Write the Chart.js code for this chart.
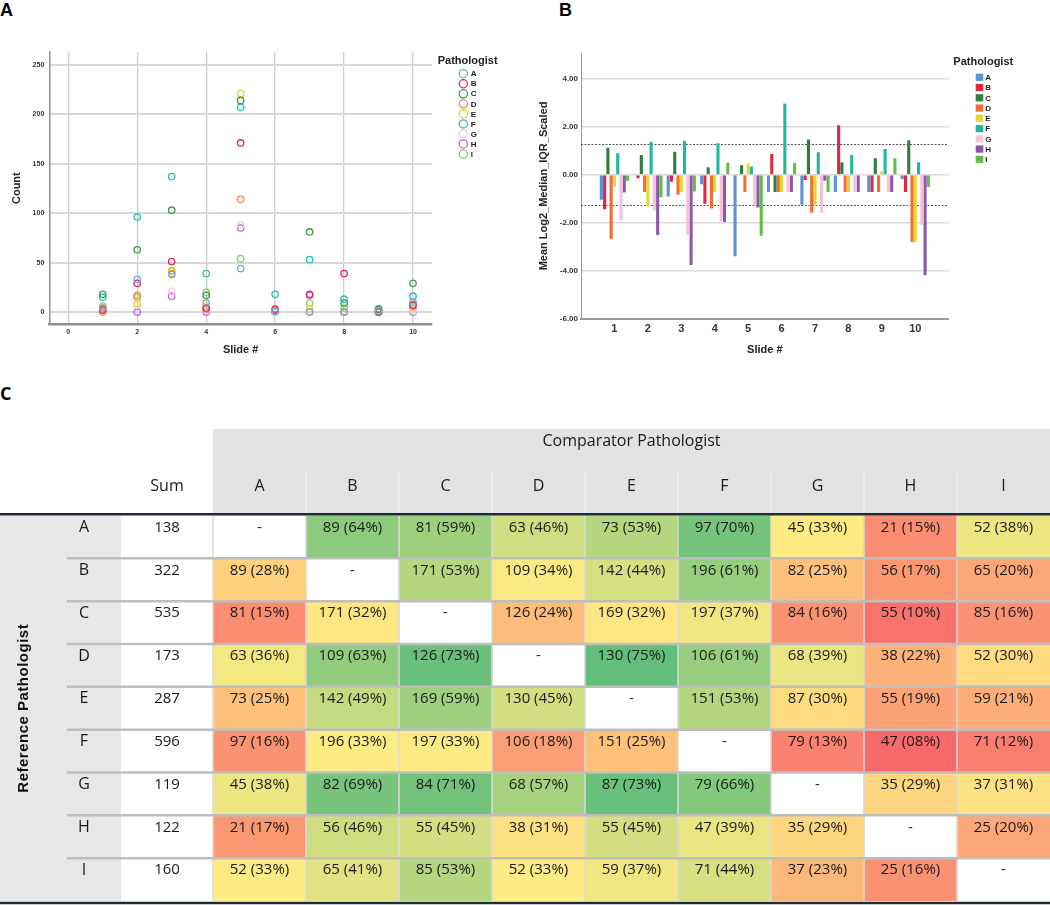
<!DOCTYPE html>
<html>
<head>
<meta charset="utf-8">
<title>Pathologist counts, scaled IQR and pairwise agreement</title>
<script src="https://cdn.jsdelivr.net/npm/chart.js@4.4.1/dist/chart.umd.min.js"></script>
<style>
  body { margin: 0; background: #fff; }
  #page { position: relative; width: 1050px; height: 905px; overflow: hidden; }
  canvas { position: absolute; }
  .panel { position: absolute; font: bold 18px "Liberation Sans", Arial, sans-serif; line-height: 1; color: #000; }
</style>
</head>
<body>
<div id="page">
  <div class="panel" style="left:0;top:1px">A</div>
  <div class="panel" style="left:559px;top:1px">B</div>
  <div class="panel" style="left:0;top:384px;font-family:'Open Sans',sans-serif">C</div>
  <canvas id="countChart" width="520" height="370" style="left:0;top:0"></canvas>
  <canvas id="iqrChart" width="530" height="370" style="left:520px;top:0"></canvas>
  <canvas id="agreeChart" width="1050" height="525" style="left:0;top:380px"></canvas>
</div>
<script>
const FONT = '"Liberation Sans", Arial, sans-serif';
const TABLE_FONT = '"Open Sans", sans-serif';

const pathologists = ['A', 'B', 'C', 'D', 'E', 'F', 'G', 'H', 'I'];
const slides = [1, 2, 3, 4, 5, 6, 7, 8, 9, 10];

// Panel A - count per slide, one row per pathologist
const slideCounts = [
  [4, 33, 38, 9, 44, 1, 0, 0, 1, 10],
  [2, 29, 51, 4, 171, 3, 18, 39, 0, 7],
  [18, 63, 103, 17, 214, 1, 81, 9, 3, 29],
  [0, 17, 39, 3, 114, 2, 0, 0, 0, 6],
  [5, 9, 41, 6, 221, 1, 3, 0, 1, 5],
  [15, 96, 137, 39, 207, 18, 53, 13, 3, 16],
  [2, 7, 21, 2, 88, 0, 0, 0, 0, 1],
  [3, 0, 16, 0, 85, 0, 17, 0, 0, 0],
  [6, 15, 42, 20, 54, 1, 9, 4, 2, 8]
];
const countTicksX = [0, 2, 4, 6, 8, 10];
const countTicksY = [0, 50, 100, 150, 200, 250];

// Panel B - mean log2 median/IQR scaled, one row per pathologist
const log2Scaled = [
  [-1.04, 0, -0.9, -0.39, -3.4, -0.72, -1.25, -0.72, -0.72, -0.18],
  [-1.43, -0.14, -0.29, -1.21, 0.04, 0.87, -0.21, 2.07, -0.72, -0.72],
  [1.13, 0.83, 0.96, 0.32, 0.4, -0.72, 1.47, 0.53, 0.69, 1.44],
  [-2.68, -0.72, -0.83, -1.4, -0.72, -0.72, -1.58, -0.72, -0.72, -2.8],
  [-0.49, -1.32, -0.72, -0.72, 0.47, -0.72, -1.25, -0.72, 0.15, -2.8],
  [0.9, 1.38, 1.42, 1.32, 0.35, 2.98, 0.94, 0.83, 1.08, 0.53],
  [-1.9, -1.49, -2.5, -1.94, -1.25, -0.72, -1.58, -0.72, -0.72, -2.08],
  [-0.74, -2.51, -3.76, -1.97, -1.36, -0.72, -0.25, -0.72, -0.72, -4.19],
  [-0.26, -0.93, -0.69, 0.5, -2.54, 0.49, -0.72, -0.03, 0.69, -0.51]
];
const iqrTicksY = [-6, -4, -2, 0, 2, 4];
const cutoffs = [1.27, -1.27];

// Panel C - agreement counts and percentages (row = reference, column = comparator)
const sumCounts = [138, 322, 535, 173, 287, 596, 119, 122, 160];
const agreeCounts = [
  [null, 89, 81, 63, 73, 97, 45, 21, 52],
  [89, null, 171, 109, 142, 196, 82, 56, 65],
  [81, 171, null, 126, 169, 197, 84, 55, 85],
  [63, 109, 126, null, 130, 106, 68, 38, 52],
  [73, 142, 169, 130, null, 151, 87, 55, 59],
  [97, 196, 197, 106, 151, null, 79, 47, 71],
  [45, 82, 84, 68, 87, 79, null, 35, 37],
  [21, 56, 55, 38, 55, 47, 35, null, 25],
  [52, 65, 85, 52, 59, 71, 37, 25, null]
];
const agreePct = [
  [null, 64, 59, 46, 53, 70, 33, 15, 38],
  [28, null, 53, 34, 44, 61, 25, 17, 20],
  [15, 32, null, 24, 32, 37, 16, 10, 16],
  [36, 63, 73, null, 75, 61, 39, 22, 30],
  [25, 49, 59, 45, null, 53, 30, 19, 21],
  [16, 33, 33, 18, 25, null, 13, 8, 12],
  [38, 69, 71, 57, 73, 66, null, 29, 31],
  [17, 46, 45, 31, 45, 39, 29, null, 20],
  [33, 41, 53, 33, 37, 44, 23, 16, null]
];

const pointColors = ['#72a9ee', '#e2255a', '#3f9a48', '#ff8052', '#e6d81e', '#22c0b2', '#ffc2dc', '#b266ee', '#7fd25a'];
const barColors = ['#5c92d2', '#e0273d', '#2f7d3f', '#f26c33', '#e4d92c', '#1eb8a0', '#f8c1d9', '#8a5aa8', '#62bd46'];

Chart.defaults.font.family = FONT;
Chart.defaults.color = '#333';

// legend drawn at the right of a chart, title flush left, items indented
function sideLegend(cfg) {
  return {
    id: 'sideLegend',
    afterDraw(chart) {
      const ctx = chart.ctx;
      ctx.save();
      ctx.textBaseline = 'middle';
      ctx.textAlign = 'left';
      ctx.fillStyle = '#222';
      ctx.font = 'bold 11px ' + FONT;
      ctx.fillText('Pathologist', cfg.titleX, cfg.titleY);
      ctx.font = 'bold 8px ' + FONT;
      chart.data.datasets.forEach((ds, i) => {
        const y = cfg.firstY + i * cfg.step;
        if (cfg.marker === 'circle') {
          ctx.strokeStyle = ds.borderColor;
          ctx.lineWidth = 1.3;
          ctx.beginPath();
          ctx.arc(cfg.markX, y, 4.1, 0, Math.PI * 2);
          ctx.stroke();
        } else {
          ctx.fillStyle = ds.backgroundColor;
          ctx.fillRect(cfg.markX - 3.8, y - 3.6, 7.6, 7.2);
        }
        ctx.fillStyle = '#222';
        ctx.fillText(ds.label, cfg.textX, y + 0.5);
      });
      ctx.restore();
    }
  };
}

// Panel A
new Chart(document.getElementById('countChart'), {
  type: 'scatter',
  data: {
    datasets: pathologists.map((p, i) => ({
      label: p,
      data: slides.map((s, j) => ({ x: s, y: slideCounts[i][j] })),
      borderColor: pointColors[i],
      backgroundColor: 'rgba(0,0,0,0)',
      pointRadius: 3.2,
      pointBorderWidth: 1.3
    }))
  },
  options: {
    responsive: false,
    animation: false,
    events: [],
    layout: { padding: { left: 0, top: 52, right: 88, bottom: 0 } },
    plugins: { legend: { display: false }, tooltip: { enabled: false } },
    scales: {
      x: {
        type: 'linear',
        min: -0.55,
        max: 10.55,
        afterBuildTicks: s => { s.ticks = countTicksX.map(v => ({ value: v })); },
        afterFit: s => { s.height = 45.7; },
        grid: { color: '#cdcdcd', lineWidth: 1.3, drawTicks: false },
        border: { color: '#8f8f8f', width: 2.5 },
        ticks: { font: { size: 7, weight: 'bold' }, color: '#333', padding: 4 },
        title: { display: true, text: 'Slide #', color: '#222', font: { size: 11, weight: 'bold' }, padding: { top: 0, bottom: 13.4 } }
      },
      y: {
        min: -12.4,
        max: 263,
        afterBuildTicks: s => { s.ticks = countTicksY.map(v => ({ value: v })); },
        afterFit: s => { s.width = 49.3; },
        grid: { color: '#d8d8d8', lineWidth: 2, drawTicks: false },
        border: { color: '#8f8f8f', width: 1.5 },
        ticks: { font: { size: 7, weight: 'bold' }, color: '#333', padding: 5 },
        title: { display: true, text: 'Count', color: '#222', font: { size: 11, weight: 'bold' }, padding: { top: 10.4, bottom: 0 } }
      }
    }
  },
  plugins: [sideLegend({ titleX: 437.7, titleY: 60.7, markX: 463.3, textX: 470.7, firstY: 73.7, step: 10.04, marker: 'circle' })]
});

// dotted cut-off lines behind the bars
const cutoffLines = {
  id: 'cutoffLines',
  beforeDatasetsDraw(chart) {
    const { ctx, chartArea: { left, right }, scales: { y } } = chart;
    ctx.save();
    ctx.strokeStyle = '#555';
    ctx.lineWidth = 1;
    ctx.setLineDash([2, 1.5]);
    cutoffs.forEach(v => {
      const py = Math.round(y.getPixelForValue(v)) + 0.5;
      ctx.beginPath();
      ctx.moveTo(left, py);
      ctx.lineTo(right, py);
      ctx.stroke();
    });
    ctx.restore();
  }
};

// Panel B - empty slots either side give the wide margins of the original
new Chart(document.getElementById('iqrChart'), {
  type: 'bar',
  data: {
    labels: ['', ...slides.map(String), ''],
    datasets: pathologists.map((p, i) => ({
      label: p,
      data: [null, ...log2Scaled[i], null],
      backgroundColor: barColors[i],
      borderWidth: 0,
      barPercentage: 0.95,
      categoryPercentage: 0.88
    }))
  },
  options: {
    responsive: false,
    animation: false,
    events: [],
    layout: { padding: { left: 0, top: 53.3, right: 101.3, bottom: 0 } },
    plugins: { legend: { display: false }, tooltip: { enabled: false } },
    scales: {
      x: {
        offset: false,
        afterFit: s => { s.height = 51.3; },
        grid: { display: false, drawTicks: false },
        border: { color: '#9a9a9a', width: 2 },
        ticks: { font: { size: 11, weight: 'bold' }, color: '#333', padding: 3.4, maxRotation: 0, autoSkip: false },
        title: { display: true, text: 'Slide #', color: '#222', font: { size: 11, weight: 'bold' }, padding: { top: 0, bottom: 13.4 } }
      },
      y: {
        min: -6,
        max: 5.07,
        afterBuildTicks: s => { s.ticks = iqrTicksY.map(v => ({ value: v })); },
        afterFit: s => { s.width = 61; },
        grid: { color: '#d9d9d9', lineWidth: 1.5, drawTicks: false },
        border: { color: '#9a9a9a', width: 1 },
        ticks: { font: { size: 8, weight: 'bold' }, color: '#333', padding: 3, callback: v => v.toFixed(2) },
        title: { display: true, text: 'Mean Log2_Median_IQR_Scaled', color: '#222', font: { size: 11, weight: 'bold' }, padding: { top: 17, bottom: 0 } }
      }
    }
  },
  plugins: [cutoffLines, sideLegend({ titleX: 433.3, titleY: 62, markX: 459.5, textX: 465.3, firstY: 77.3, step: 10.25, marker: 'square' })]
});

// Panel C - colour scale red / yellow / green like a spreadsheet 3-colour rule
const pctSorted = agreePct.flat().filter(v => v != null).sort((a, b) => a - b);
const pctMin = pctSorted[0];
const pctMax = pctSorted[pctSorted.length - 1];
const pctMid = (pctSorted[(pctSorted.length - 1) >> 1] + pctSorted[pctSorted.length >> 1]) / 2;

function heatColor(v) {
  const red = [248, 105, 107], yellow = [255, 235, 132], green = [99, 190, 123];
  let a, b, t;
  if (v <= pctMid) { a = red; b = yellow; t = (v - pctMin) / (pctMid - pctMin); }
  else { a = yellow; b = green; t = (v - pctMid) / (pctMax - pctMid); }
  const c = a.map((x, k) => Math.round(x + (b[k] - x) * t));
  return 'rgb(' + c.join(',') + ')';
}

function hLine(ctx, x1, x2, y) {
  ctx.beginPath();
  ctx.moveTo(x1, y);
  ctx.lineTo(x2, y);
  ctx.stroke();
}

function vLine(ctx, x, y1, y2) {
  ctx.beginPath();
  ctx.moveTo(x, y1);
  ctx.lineTo(x, y2);
  ctx.stroke();
}

const agreeTable = {
  id: 'agreeTable',
  beforeDatasetsDraw(chart) {
    const { ctx, chartArea: { left, right, top, bottom } } = chart;
    const colW = (right - left) / pathologists.length;
    ctx.save();
    // header band and grey row-label strip
    ctx.fillStyle = '#e2e2e2';
    ctx.fillRect(left, 49, right - left, top - 49);
    ctx.fillStyle = '#e7e7e7';
    ctx.fillRect(0, top, 121, bottom - top);
    ctx.strokeStyle = '#ececec';
    ctx.lineWidth = 1.5;
    for (let j = 1; j < pathologists.length; j++) vLine(ctx, left + j * colW, 92, top);
    ctx.restore();
  },
  afterDatasetsDraw(chart) {
    const { ctx, chartArea: { left, right, top, bottom }, scales: { x, y } } = chart;
    const colW = (right - left) / pathologists.length;
    ctx.save();

    // cell separators
    ctx.strokeStyle = '#dadada';
    ctx.lineWidth = 1.5;
    for (let j = 0; j < pathologists.length; j++) vLine(ctx, left + j * colW, top, bottom);
    ctx.strokeStyle = '#bebebe';
    ctx.lineWidth = 2.5;
    for (let r = 1; r < pathologists.length; r++) hLine(ctx, 67, right, y.getPixelForValue(r));
    ctx.strokeStyle = '#1f2c3b';
    ctx.lineWidth = 2.5;
    hLine(ctx, 0, right, top - 1.2);
    hLine(ctx, 0, right, bottom + 2);

    // header text
    ctx.fillStyle = '#1a1a1a';
    ctx.textAlign = 'center';
    ctx.textBaseline = 'middle';
    ctx.font = '16px ' + TABLE_FONT;
    ctx.fillText('Comparator Pathologist', (left + right) / 2, 61);
    ctx.fillText('Sum', 167, 106);
    pathologists.forEach((p, j) => ctx.fillText(p, x.getPixelForValue(j), 106));

    // body text
    ctx.font = '15px ' + TABLE_FONT;
    pathologists.forEach((ref, r) => {
      const ty = y.getPixelForValue(r) + 12;
      ctx.font = '16px ' + TABLE_FONT;
      ctx.fillText(ref, 84, ty);
      ctx.font = '15px ' + TABLE_FONT;
      ctx.fillText(String(sumCounts[r]), 167, ty);
      pathologists.forEach((cmp, j) => {
        const n = agreeCounts[r][j];
        const label = n == null ? '-' : n + ' (' + String(agreePct[r][j]).padStart(2, '0') + '%)';
        ctx.fillText(label, x.getPixelForValue(j), ty);
      });
    });

    // rotated row-axis title
    ctx.translate(23.5, (top + bottom) / 2);
    ctx.rotate(-Math.PI / 2);
    ctx.font = 'bold 15px ' + FONT;
    ctx.letterSpacing = '0.5px';
    ctx.fillStyle = '#111';
    ctx.fillText('Reference Pathologist', 0, 0);
    ctx.restore();
  }
};

new Chart(document.getElementById('agreeChart'), {
  type: 'bar',
  data: {
    labels: pathologists,
    datasets: pathologists.map((ref, r) => ({
      label: ref,
      data: agreePct[r].map(p => (p == null ? null : [r, r + 1])),
      backgroundColor: agreePct[r].map(p => (p == null ? '#fff' : heatColor(p))),
      borderWidth: 0,
      barPercentage: 1,
      categoryPercentage: 1,
      grouped: false
    }))
  },
  options: {
    responsive: false,
    animation: false,
    events: [],
    layout: { padding: { left: 213, top: 135.5, right: 0, bottom: 4 } },
    plugins: { legend: { display: false }, tooltip: { enabled: false } },
    scales: {
      x: { display: false },
      y: { display: false, min: 0, max: 9, reverse: true }
    }
  },
  plugins: [agreeTable]
});
</script>
</body>
</html>
